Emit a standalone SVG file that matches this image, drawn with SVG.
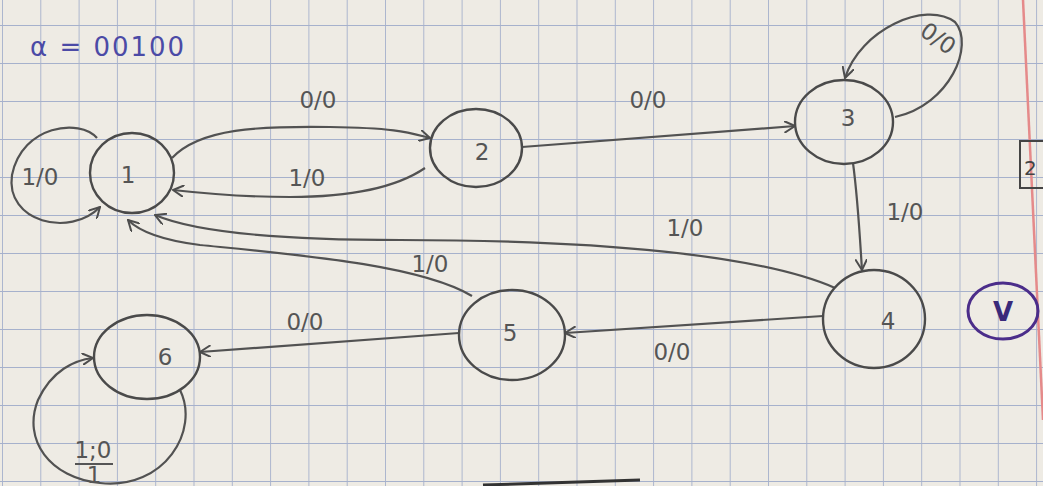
<svg xmlns="http://www.w3.org/2000/svg" width="1043" height="486" viewBox="0 0 1043 486">
<defs>
<pattern id="grid" x="2" y="25" width="38.3" height="38" patternUnits="userSpaceOnUse">
<path d="M0,0 H38.3 M0,0 V38" fill="none" stroke="#a6b1cc" stroke-width="1.8"/>
</pattern>
<marker id="arr" viewBox="0 0 12 12" refX="11" refY="6" markerWidth="12" markerHeight="12" markerUnits="userSpaceOnUse" orient="auto">
<path d="M0,0 L11,6 L0,12" fill="none" stroke="#4d4d4d" stroke-width="2"/>
</marker>
</defs>
<style>
.node ellipse{fill:none;stroke:#4a4a4a;stroke-width:2.4}
.node text{font-family:"DejaVu Sans",sans-serif;font-size:23px;fill:#555;text-anchor:middle;dominant-baseline:central}
#edges path{fill:none;stroke:#525252;stroke-width:2.2}
.lbl{font-family:"DejaVu Sans",sans-serif;font-size:23px;fill:#555;text-anchor:middle}
</style>
<rect width="1043" height="486" fill="#eeebe4"/>
<rect width="1043" height="486" fill="url(#grid)"/>
<path d="M1023,0 L1043,420" stroke="#e58a8a" stroke-width="2.5" fill="none"/>
<text x="30" y="56" font-family="DejaVu Sans,sans-serif" font-size="26" fill="#4b4aa6" letter-spacing="2">α = 00100</text>
<g id="edges">
<path d="M172,158 C200,128 260,126 330,127 S410,133 430,138" marker-end="url(#arr)"/>
<path d="M425,168 C400,185 360,197 290,197 C240,197 200,193 173,190" marker-end="url(#arr)"/>
<path d="M97,138 C80,118 22,125 12,175 C5,222 70,238 100,207" marker-end="url(#arr)"/>
<path d="M522,147 L795,126" marker-end="url(#arr)"/>
<path d="M895,117 C950,105 975,45 955,22 C925,0 860,30 845,78" marker-end="url(#arr)"/>
<path d="M853,163 C858,200 860,240 862,270" marker-end="url(#arr)"/>
<path d="M835,288 C760,255 600,240 400,240 C260,240 190,230 155,215" marker-end="url(#arr)"/>
<path d="M472,296 C420,265 300,255 200,245 C160,240 138,230 128,220" marker-end="url(#arr)"/>
<path d="M823,316 L565,333" marker-end="url(#arr)"/>
<path d="M459,333 L200,352" marker-end="url(#arr)"/>
<path d="M180,390 C200,430 165,490 100,483 C50,478 22,440 38,400 C52,370 75,360 93,358" marker-end="url(#arr)"/>
</g>
<g id="node1" class="node"><ellipse cx="132" cy="173" rx="42" ry="40"/><text x="128" y="175">1</text></g>
<g id="node2" class="node"><ellipse cx="476" cy="148" rx="46" ry="39"/><text x="482" y="152">2</text></g>
<g id="node3" class="node"><ellipse cx="844" cy="122" rx="49" ry="42"/><text x="848" y="118">3</text></g>
<g id="node4" class="node"><ellipse cx="874" cy="319" rx="51" ry="49"/><text x="888" y="321">4</text></g>
<g id="node5" class="node"><ellipse cx="512" cy="335" rx="53" ry="45"/><text x="510" y="333">5</text></g>
<g id="node6" class="node"><ellipse cx="147" cy="357" rx="53" ry="42"/><text x="165" y="357">6</text></g>
<g id="labels">
<text class="lbl" x="318" y="108">0/0</text>
<text class="lbl" x="307" y="186">1/0</text>
<text class="lbl" x="40" y="185">1/0</text>
<text class="lbl" x="648" y="108">0/0</text>
<text class="lbl" x="937" y="46" transform="rotate(35 937 40)">0/0</text>
<text class="lbl" x="905" y="220">1/0</text>
<text class="lbl" x="685" y="236">1/0</text>
<text class="lbl" x="430" y="272">1/0</text>
<text class="lbl" x="672" y="360">0/0</text>
<text class="lbl" x="305" y="330">0/0</text>
<text class="lbl" x="93" y="458" font-size="18">1;0</text>
<path d="M75,464 H113" stroke="#555" stroke-width="2"/>
<text class="lbl" x="94" y="483" font-size="16">1</text>
</g>
<ellipse cx="1003" cy="311" rx="35" ry="28" fill="none" stroke="#4b2d8a" stroke-width="3"/>
<text x="1003" y="321" font-family="DejaVu Sans,sans-serif" font-size="26" font-weight="bold" fill="#3a2a7a" text-anchor="middle">V</text>
<path d="M1043,141 H1020 V188 H1043" fill="none" stroke="#444" stroke-width="2"/>
<text x="1024" y="175" font-family="DejaVu Sans,sans-serif" font-size="20" fill="#444">2</text>
<path d="M483,485 L640,480" stroke="#333" stroke-width="3" fill="none"/>
</svg>
